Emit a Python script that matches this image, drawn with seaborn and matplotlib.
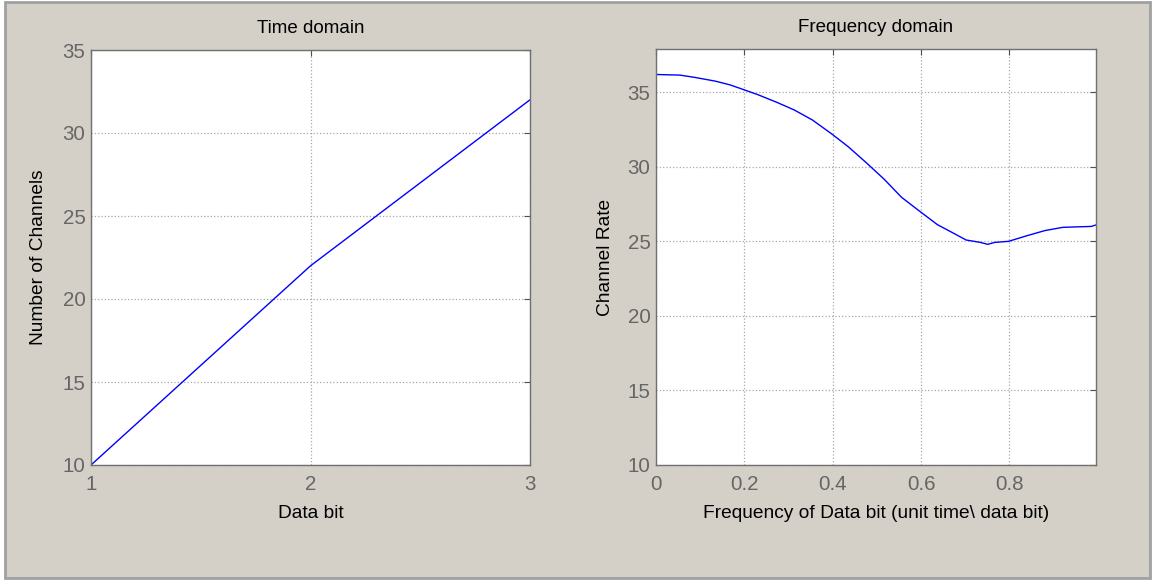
import numpy as np
import pandas as pd
import matplotlib
matplotlib.use('Agg')
import matplotlib.pyplot as plt
from matplotlib.patches import Rectangle
import seaborn as sns

# time domain data
data_bit = [1, 2, 3]
n_channels = [10, 22, 32]

# frequency domain data
freq = [0.0, 0.054, 0.087, 0.135, 0.168, 0.198, 0.232, 0.273, 0.313, 0.354,
        0.398, 0.435, 0.475, 0.516, 0.556, 0.595, 0.637, 0.670, 0.702, 0.734,
        0.751, 0.767, 0.798, 0.840, 0.880, 0.921, 0.985, 0.996]
chan_rate = [36.19, 36.15, 36.0, 35.74, 35.49, 35.18, 34.82, 34.33, 33.81, 33.14,
             32.2, 31.35, 30.3, 29.18, 27.95, 27.06, 26.12, 25.6, 25.09, 24.93,
             24.8, 24.93, 25.0, 25.38, 25.72, 25.94, 26.0, 26.1]

BG = '#d4d0c8'
TICK_GRAY = '#666666'

sns.set_style('white')
plt.rcParams['font.family'] = ['Liberation Sans', 'DejaVu Sans']
plt.rcParams['xtick.direction'] = 'in'
plt.rcParams['ytick.direction'] = 'in'

df_time = pd.DataFrame({'bit': data_bit, 'channels': n_channels})
df_freq = pd.DataFrame({'freq': freq, 'rate': chan_rate})

fig = plt.figure(figsize=(11.55, 5.82), dpi=100)
fig.patch.set_facecolor('white')
frame = Rectangle((5 / 1155, 1 - 578 / 582), 1145 / 1155, 576 / 582,
                  transform=fig.transFigure, facecolor=BG,
                  edgecolor='#a0a0a0', lw=2, zorder=-10)
fig.patches.append(frame)

ax1 = fig.add_axes([91 / 1155, 1 - 465 / 582, 439 / 1155, 415 / 582])
ax2 = fig.add_axes([656 / 1155, 1 - 465 / 582, 440 / 1155, 416 / 582])

sns.lineplot(data=df_time, x='bit', y='channels', ax=ax1, color='blue', lw=1)
sns.lineplot(data=df_freq, x='freq', y='rate', ax=ax2, color='blue', lw=1)


def style_ax(ax, title, xlabel, ylabel, ypad):
    ax.set_facecolor('white')
    ax.set_title(title, fontsize=13.5, color='black', pad=12)
    ax.set_xlabel(xlabel, fontsize=13.8, color='black', labelpad=8)
    ax.set_ylabel(ylabel, fontsize=13.8, color='black', labelpad=ypad)
    ax.grid(True, linestyle=':', color='#a8a8a8', lw=0.9)
    for s in ax.spines.values():
        s.set_color('#707070')
        s.set_linewidth(1.0)
    ax.tick_params(axis='both', which='both', top=True, right=True,
                   length=4, width=0.8, color='#505050',
                   labelsize=14.8, labelcolor=TICK_GRAY)
    ax.tick_params(axis='x', pad=7)
    ax.tick_params(axis='y', pad=4)


ax1.set_xlim(1, 3)
ax1.set_ylim(10, 35)
ax1.set_xticks([1, 2, 3])
ax1.set_yticks([10, 15, 20, 25, 30, 35])
style_ax(ax1, 'Time domain', 'Data bit', 'Number of Channels', 11)

ax2.set_xlim(0, 0.996)
ax2.set_ylim(10, 37.9)
ax2.set_xticks([0, 0.2, 0.4, 0.6, 0.8])
ax2.set_xticklabels(['0', '0.2', '0.4', '0.6', '0.8'])
ax2.set_yticks([10, 15, 20, 25, 30, 35])
style_ax(ax2, 'Frequency domain', 'Frequency of Data bit (unit time\\ data bit)', 'Channel Rate', 10)

fig.savefig('out.png', dpi=100, facecolor=fig.get_facecolor())
